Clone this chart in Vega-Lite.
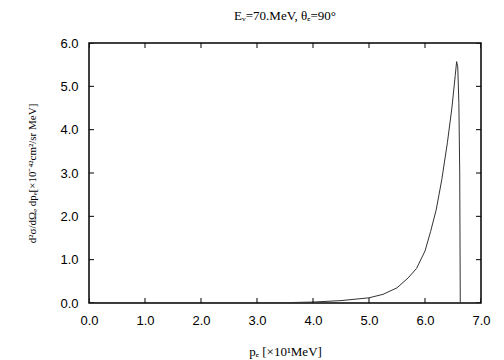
{
  "$schema": "https://vega.github.io/schema/vega-lite/v6.json",
  "autosize": "none",
  "width": 392,
  "height": 260,
  "padding": {"left": 89, "top": 43, "right": 23, "bottom": 57},
  "background": "white",
  "title": {
    "text": "Eᵥ=70.MeV,  θₑ=90°",
    "font": "Liberation Serif",
    "fontSize": 13,
    "fontWeight": "normal",
    "color": "black",
    "offset": 14
  },
  "config": {
    "view": {"stroke": "black", "strokeWidth": 1.5},
    "axis": {
      "grid": false,
      "domain": false,
      "ticks": false,
      "labelFlush": false,
      "labelFont": "Liberation Sans",
      "labelFontSize": 13,
      "labelColor": "black",
      "titleFont": "Liberation Serif",
      "titleFontSize": 12,
      "titleFontWeight": "normal",
      "titleColor": "black"
    }
  },
  "datasets": {
    "curve": [
      {"p": 0, "v": 0},
      {"p": 1, "v": 0},
      {"p": 2, "v": 0},
      {"p": 3, "v": 0.002},
      {"p": 3.5, "v": 0.008},
      {"p": 4.0, "v": 0.022},
      {"p": 4.5, "v": 0.055},
      {"p": 5.0, "v": 0.12},
      {"p": 5.25, "v": 0.2},
      {"p": 5.5, "v": 0.35},
      {"p": 5.7, "v": 0.58},
      {"p": 5.85, "v": 0.8},
      {"p": 6.0, "v": 1.2},
      {"p": 6.1, "v": 1.65},
      {"p": 6.2, "v": 2.15},
      {"p": 6.3, "v": 2.85},
      {"p": 6.4, "v": 3.7},
      {"p": 6.48, "v": 4.5},
      {"p": 6.54, "v": 5.25},
      {"p": 6.565, "v": 5.57},
      {"p": 6.585, "v": 5.45},
      {"p": 6.605, "v": 4.6},
      {"p": 6.62, "v": 3.0},
      {"p": 6.63, "v": 0}
    ],
    "xticks": [{"t": 0}, {"t": 1}, {"t": 2}, {"t": 3}, {"t": 4}, {"t": 5}, {"t": 6}, {"t": 7}],
    "yticks": [{"t": 0}, {"t": 1}, {"t": 2}, {"t": 3}, {"t": 4}, {"t": 5}, {"t": 6}]
  },
  "layer": [
    {
      "data": {"name": "curve"},
      "mark": {"type": "line", "color": "#333333", "strokeWidth": 1, "clip": true},
      "encoding": {
        "x": {
          "field": "p", "type": "quantitative",
          "scale": {"domain": [0, 7], "nice": false, "zero": false},
          "axis": {"values": [0, 1, 2, 3, 4, 5, 6, 7], "format": ".1f", "labelPadding": 11, "title": "pₑ [×10¹MeV]", "titleFontSize": 13, "titlePadding": 18}
        },
        "y": {
          "field": "v", "type": "quantitative",
          "scale": {"domain": [0, 6], "nice": false, "zero": false},
          "axis": {"values": [0, 1, 2, 3, 4, 5, 6], "format": ".1f", "labelPadding": 11, "title": "d²σ/dΩₑ dpₑ[×10⁻⁴²cm²/sr MeV]", "titleFontSize": 11, "titlePadding": 22}
        }
      }
    },
    {
      "data": {"name": "xticks"},
      "mark": {"type": "tick", "orient": "vertical", "color": "black", "size": 10, "thickness": 1, "clip": true, "opacity": 1},
      "encoding": {
        "x": {"field": "t", "type": "quantitative"},
        "y": {"datum": 0, "type": "quantitative"}
      }
    },
    {
      "data": {"name": "xticks"},
      "mark": {"type": "tick", "orient": "vertical", "color": "black", "size": 10, "thickness": 1, "clip": true, "opacity": 1},
      "encoding": {
        "x": {"field": "t", "type": "quantitative"},
        "y": {"datum": 6, "type": "quantitative"}
      }
    },
    {
      "data": {"name": "yticks"},
      "mark": {"type": "tick", "orient": "horizontal", "color": "black", "size": 10, "thickness": 1, "clip": true, "opacity": 1},
      "encoding": {
        "y": {"field": "t", "type": "quantitative"},
        "x": {"datum": 0, "type": "quantitative"}
      }
    },
    {
      "data": {"name": "yticks"},
      "mark": {"type": "tick", "orient": "horizontal", "color": "black", "size": 10, "thickness": 1, "clip": true, "opacity": 1},
      "encoding": {
        "y": {"field": "t", "type": "quantitative"},
        "x": {"datum": 7, "type": "quantitative"}
      }
    }
  ]
}
